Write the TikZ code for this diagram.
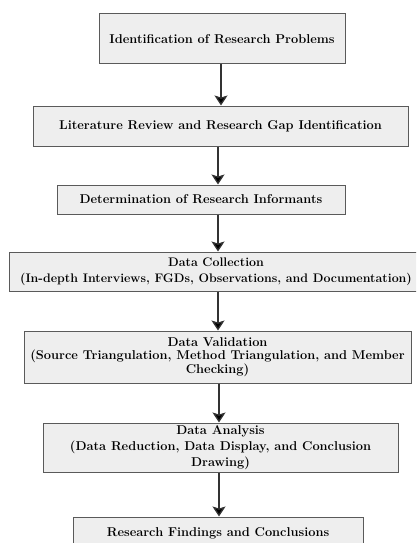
\documentclass[tikz,border=0pt]{standalone}
\usetikzlibrary{arrows.meta}
\definecolor{boxfill}{HTML}{EEEEEE}
\definecolor{boxline}{HTML}{5A5A5A}
\definecolor{arrline}{HTML}{333333}
\begin{document}
\begin{tikzpicture}[x=1pt,y=-1pt,
  procbox/.style={draw=boxline, line width=1pt, fill=boxfill, rectangle, inner sep=0pt,
    align=center, font=\bfseries\fontsize{12.8}{16}\selectfont},
  arr/.style={draw=arrline, line width=1.3pt, -{Stealth[length=10pt,width=13pt,inset=2pt,fill=black]}}]
\useasboundingbox (0,0) rectangle (416,543);
\clip (0,0) rectangle (416,543);
\node[procbox, minimum width=246pt, minimum height=50pt] (b1) at (222,39) {Identification of Research Problems};
\node[procbox, minimum width=375pt, minimum height=40pt] (b2) at (220.5,126) {Literature Review and Research Gap Identification};
\node[procbox, minimum width=288pt, minimum height=29pt] (b3) at (201,199.5) {Determination of Research Informants};
\node[procbox, minimum width=414pt, minimum height=39pt, font=\bfseries\fontsize{12.4}{16}\selectfont] (b4) at (216,271.5) {Data Collection\\(In-depth Interviews, FGDs, Observations, and Documentation)};
\node[procbox, minimum width=387pt, minimum height=52pt, font=\bfseries\fontsize{12.8}{12.8}\selectfont] (b5) at (217.5,357) {Data Validation\\(Source Triangulation, Method Triangulation, and Member\\Checking)};
\node[procbox, minimum width=355pt, minimum height=49pt] (b6) at (220.5,447.5) {Data Analysis\\(Data Reduction, Data Display, and Conclusion\\Drawing)};
\node[procbox, minimum width=290pt, minimum height=33pt] (b7) at (218,533.5) {Research Findings and Conclusions};
\draw[arr] (221,0 |- b1.south) -- (221,0 |- b2.north);
\draw[arr] (218,0 |- b2.south) -- (218,0 |- b3.north);
\draw[arr] (218,0 |- b3.south) -- (218,0 |- b4.north);
\draw[arr] (218,0 |- b4.south) -- (218,0 |- b5.north);
\draw[arr] (219,0 |- b5.south) -- (219,0 |- b6.north);
\draw[arr] (219,0 |- b6.south) -- (219,0 |- b7.north);
\end{tikzpicture}
\end{document}
